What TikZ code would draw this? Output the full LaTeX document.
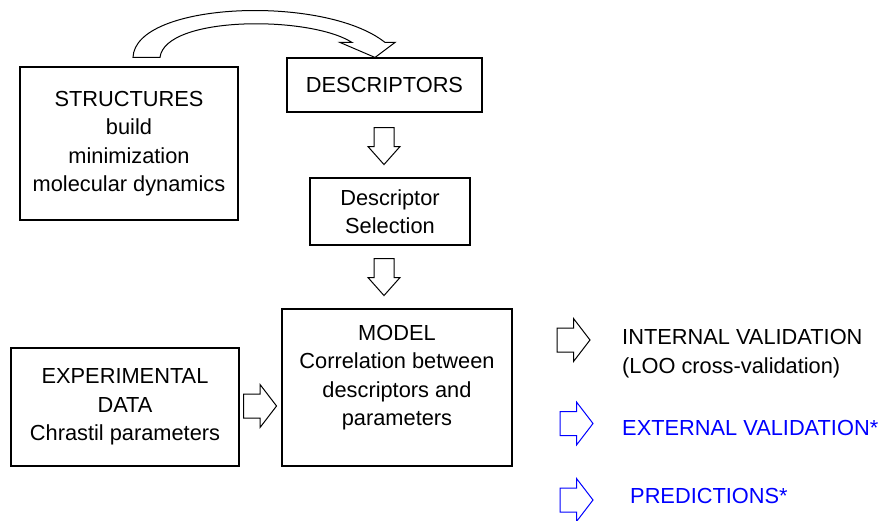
\documentclass[tikz,border=0pt]{standalone}
\usepackage{fontspec}
\setmainfont{Liberation Sans}
\usetikzlibrary{positioning,calc}

\tikzset{
    box/.style={draw, rectangle, line width=1.1pt, align=center, inner sep=0pt},
    rarrow/.pic={\draw[line width=1pt, fill=white] (0,-12) -- (16.5,-12) -- (16.5,-21.5) -- (33,0) -- (16.5,21.5) -- (16.5,12) -- (0,12) -- cycle;},
    darrow/.pic={\draw[line width=1pt, fill=white] (-10,0) -- (10,0) -- (10,19) -- (16,19) -- (0,37) -- (-16,19) -- (-10,19) -- cycle;}
}

\begin{document}
\begin{tikzpicture}[x=1pt, y=-1pt, font=\fontsize{21.8}{28.5}\selectfont]
    \useasboundingbox (0,0) rectangle (885,521);

    % Boxes
    \node[box, minimum width=218, minimum height=153] (struct) at (129,143.5) {STRUCTURES\\build\\minimization\\molecular dynamics};
    \node[box, minimum width=195, minimum height=54] (desc) at (384.5,85) {DESCRIPTORS};
    \node[box, minimum width=160, minimum height=67] (sel) at (390,211.5) {Descriptor\\Selection};
    \node[box, minimum width=228, minimum height=118] (exper) at (125,407) {EXPERIMENTAL\\DATA\\Chrastil parameters};
    \node[box, minimum width=230, minimum height=157] (model) at (397,387.5) {};
    \node[align=center, inner sep=0pt] (modeltext) at ($(model.center)+(0,-10)$) {MODEL\\Correlation between\\descriptors and\\parameters};

    % Curved arrow
    \coordinate (tailL) at ($(struct.north)+(4,-9)$);
    \coordinate (tailR) at ($(struct.north)+(31,-9)$);
    \coordinate (tip) at ($(desc.north)+(-9.5,0)$);
    \coordinate (outerEnd) at ($(tip)+(10,-15)$);
    \coordinate (innerEnd) at ($(tip)+(-23,-15)$);
    \coordinate (headR) at ($(tip)+(20,-15)$);
    \coordinate (headL) at ($(tip)+(-35,-15)$);
    \draw[line width=1pt, fill=white] (tailR) -- (tailL) .. controls +(2,-56) and +(-60,-48) .. (outerEnd) -- (headR) -- (tip) -- (headL) -- (innerEnd) .. controls +(-42,-27) and +(5,-42) .. (tailR) -- cycle;

    % Block arrows
    \pic (down1) at ($(desc.south)+(-0.5,15)$) {darrow};
    \pic (down2) at ($(sel.south)+(-6,13)$) {darrow};
    \pic (expArr) at ($(exper.east)+(4,-1)$) {rarrow};
    \pic (intArr) at (557,340) {rarrow};
    \pic[color=blue] (extArr) at (560,423.5) {rarrow};
    \pic[color=blue] (predArr) at (560,500) {rarrow};

    % Results
    \node[align=left, anchor=west, inner sep=0pt] (internal) at (622,353.5) {INTERNAL VALIDATION\\(LOO cross-validation)};
    \node[anchor=base west, inner sep=0pt, text=blue] (external) at (622,435) {EXTERNAL VALIDATION*};
    \node[anchor=base west, inner sep=0pt, text=blue] (pred) at (630,503) {PREDICTIONS*};
\end{tikzpicture}
\end{document}
